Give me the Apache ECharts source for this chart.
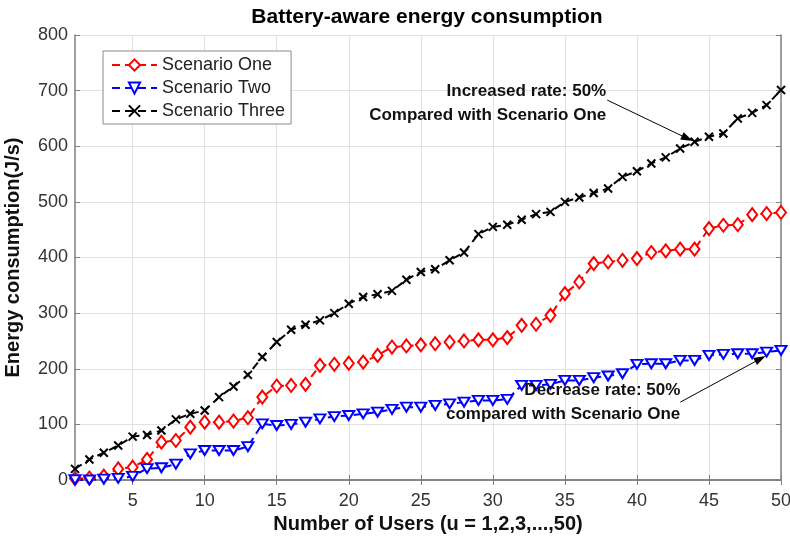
<!DOCTYPE html>
<html>
<head>
<meta charset="utf-8">
<script src="https://cdn.jsdelivr.net/npm/echarts@6/dist/echarts.min.js"></script>
<style>
  html, body { margin: 0; padding: 0; background: #fff; }
  #chart { width: 790px; height: 544px; }
</style>
</head>
<body>
<div id="chart"></div>
<script>
// Number of users on the horizontal axis
const users = [1, 2, 3, 4, 5, 6, 7, 8, 9, 10, 11, 12, 13, 14, 15, 16, 17, 18, 19, 20,
  21, 22, 23, 24, 25, 26, 27, 28, 29, 30, 31, 32, 33, 34, 35, 36, 37, 38, 39, 40,
  41, 42, 43, 44, 45, 46, 47, 48, 49, 50];

// Energy consumption (J/s) per scenario
const scenarioOne = [2.5, 3.6, 7, 20, 23, 37, 68, 71, 95, 104, 104, 106, 112, 149, 169, 170, 172, 206, 208, 210,
  212, 224, 239, 241, 243, 245, 248, 250, 252, 252, 256, 278, 280, 296, 335, 356, 389, 392, 395, 398,
  409, 412, 415, 415, 452, 458, 459, 477, 479, 481];
const scenarioTwo = [0.5, 0, 1.5, 3, 6.5, 20.5, 22, 28.5, 47, 53, 53, 53, 60, 101, 98, 100, 104, 110, 114, 116,
  119, 122, 127, 131, 131, 134, 137, 140, 143, 143, 145, 170, 170, 172, 179, 179, 184, 187, 191, 208,
  209, 209, 215, 215, 224, 226, 227, 227, 230, 233];
const scenarioThree = [20, 37, 49, 62, 78, 81, 89, 109, 119, 125, 149, 168, 189, 221, 248, 270, 279, 287, 300, 317,
  329, 334, 340, 360, 374, 379, 395, 409, 442, 455, 459, 468, 478, 482, 500, 508, 516, 524, 545, 555,
  569, 580, 596, 608, 617, 623, 650, 660, 674, 701];

const seriesNames = ['Scenario One', 'Scenario Two', 'Scenario Three'];

// Tick values
const xTicks = [5, 10, 15, 20, 25, 30, 35, 40, 45, 50];
const yMin = 0, yMax = 800, yStep = 100;

// Annotation arrows: tail (where the text sits) and head, in data units
const increaseArrow = { from: [37.94, 683], to: [43.5, 614] };
const decreaseArrow = { from: [43.01, 140], to: [48.57, 218] };
const increaseText = 'Increased rate: 50%\nCompared with Scenario One';
const decreaseText = 'Decrease rate: 50%\ncompared with Scenario One';

const FONT = '"Liberation Sans", Arial, Helvetica, sans-serif';
const AXIS_GRAY = '#808080';

const pairs = (vals) => users.map((u, i) => [u, vals[i]]);

const arrowMark = (a) => ({
  silent: true,
  animation: false,
  symbol: ['none', 'triangle'],
  symbolSize: [8, 12],
  label: { show: false },
  emphasis: { disabled: true },
  lineStyle: { color: '#000', width: 1, type: 'solid' },
  data: [[{ coord: a.from }, { coord: a.to }]]
});

const chart = echarts.init(document.getElementById('chart'), null, { renderer: 'canvas' });

const option = {
  animation: false,
  backgroundColor: '#fff',
  textStyle: { fontFamily: FONT },
  title: {
    text: 'Battery-aware energy consumption',
    left: 427,
    top: 7,
    padding: 0,
    textAlign: 'center',
    textStyle: { fontFamily: FONT, fontSize: 21, fontWeight: 'bold', color: '#000' }
  },
  // keep the plot box fixed even though the last tick label reaches the edge
  grid: { left: 75, right: 9, top: 35, bottom: 64, containLabel: false, outerBoundsMode: 'none' },
  legend: {
    orient: 'vertical',
    left: 103,
    top: 51,
    padding: [5, 6, 4, 8],
    itemGap: 5,
    itemWidth: 45,
    itemHeight: 14,
    backgroundColor: '#fff',
    borderColor: '#8a8a8a',
    borderWidth: 1,
    borderRadius: 0,
    textStyle: { fontFamily: FONT, fontSize: 18, color: '#222' },
    data: seriesNames
  },
  xAxis: [
    {
      type: 'value',
      min: 1,
      max: 50,
      position: 'bottom',
      name: 'Number of Users (u = 1,2,3,...,50)',
      nameLocation: 'middle',
      nameGap: 31,
      nameTextStyle: { fontFamily: FONT, fontSize: 20, fontWeight: 'bold', color: '#111' },
      axisLine: { show: true, lineStyle: { color: AXIS_GRAY, width: 1.5 } },
      axisTick: { show: true, inside: true, length: 5, customValues: xTicks, lineStyle: { color: AXIS_GRAY } },
      axisLabel: { customValues: xTicks, fontFamily: FONT, fontSize: 18, color: '#333', margin: 12, hideOverlap: false },
      splitLine: { show: true, lineStyle: { color: '#e1e1e1', width: 1 } }
    },
    {
      type: 'value',
      min: 1,
      max: 50,
      position: 'top',
      axisLine: { show: true, lineStyle: { color: AXIS_GRAY, width: 1.5 } },
      axisTick: { show: true, inside: true, length: 5, customValues: xTicks, lineStyle: { color: AXIS_GRAY } },
      axisLabel: { show: false },
      splitLine: { show: false }
    }
  ],
  yAxis: [
    {
      type: 'value',
      min: yMin,
      max: yMax,
      interval: yStep,
      position: 'left',
      name: 'Energy consumption(J/s)',
      nameLocation: 'middle',
      nameRotate: 90,
      nameGap: 52,
      nameTextStyle: { fontFamily: FONT, fontSize: 20, fontWeight: 'bold', color: '#111' },
      axisLine: { show: true, lineStyle: { color: AXIS_GRAY, width: 1.5 } },
      axisTick: { show: true, inside: true, length: 5, lineStyle: { color: AXIS_GRAY } },
      axisLabel: { fontFamily: FONT, fontSize: 18, color: '#333', margin: 7 },
      splitLine: { show: true, lineStyle: { color: '#e1e1e1', width: 1 } }
    },
    {
      type: 'value',
      min: yMin,
      max: yMax,
      interval: yStep,
      position: 'right',
      axisLine: { show: true, lineStyle: { color: AXIS_GRAY, width: 1.5 } },
      axisTick: { show: true, inside: true, length: 5, lineStyle: { color: AXIS_GRAY } },
      axisLabel: { show: false },
      splitLine: { show: false }
    }
  ],
  series: [
    {
      name: seriesNames[0],
      type: 'line',
      data: pairs(scenarioOne),
      symbol: 'diamond',
      symbolSize: [10, 13],
      showAllSymbol: true,
      lineStyle: { color: '#ff0000', width: 2, type: [8, 5] },
      itemStyle: { color: '#ffffff', borderColor: '#ff0000', borderWidth: 2 },
      emphasis: { disabled: true },
      z: 3
    },
    {
      name: seriesNames[1],
      type: 'line',
      data: pairs(scenarioTwo),
      symbol: 'triangle',
      symbolRotate: 180,
      symbolSize: [11, 9],
      showAllSymbol: true,
      lineStyle: { color: '#0000ff', width: 2, type: [8, 5] },
      itemStyle: { color: '#ffffff', borderColor: '#0000ff', borderWidth: 2 },
      emphasis: { disabled: true },
      markLine: arrowMark(decreaseArrow),
      z: 3
    },
    {
      name: seriesNames[2],
      type: 'line',
      data: pairs(scenarioThree),
      symbol: 'path://M0,0L10,10M10,0L0,10',
      symbolSize: 8,
      showAllSymbol: true,
      lineStyle: { color: '#000000', width: 2, type: [8, 5] },
      itemStyle: { color: '#000000', borderColor: '#000000', borderWidth: 2 },
      emphasis: { disabled: true },
      markLine: arrowMark(increaseArrow),
      z: 3
    }
  ]
};

chart.setOption(option);

// Annotation texts sit at the tail of each arrow, right-aligned
const tailOne = chart.convertToPixel({ gridIndex: 0 }, increaseArrow.from);
const tailTwo = chart.convertToPixel({ gridIndex: 0 }, decreaseArrow.from);
const noteStyle = (txt) => ({
  text: txt,
  align: 'right',
  verticalAlign: 'middle',
  font: 'bold 17px ' + FONT,
  lineHeight: 24,
  fill: '#111'
});

chart.setOption({
  graphic: [
    { type: 'text', x: tailOne[0] - 1, y: tailOne[1] + 3, z: 10, silent: true, style: noteStyle(increaseText) },
    { type: 'text', x: tailTwo[0], y: tailTwo[1], z: 10, silent: true, style: noteStyle(decreaseText) }
  ]
});
</script>
</body>
</html>
